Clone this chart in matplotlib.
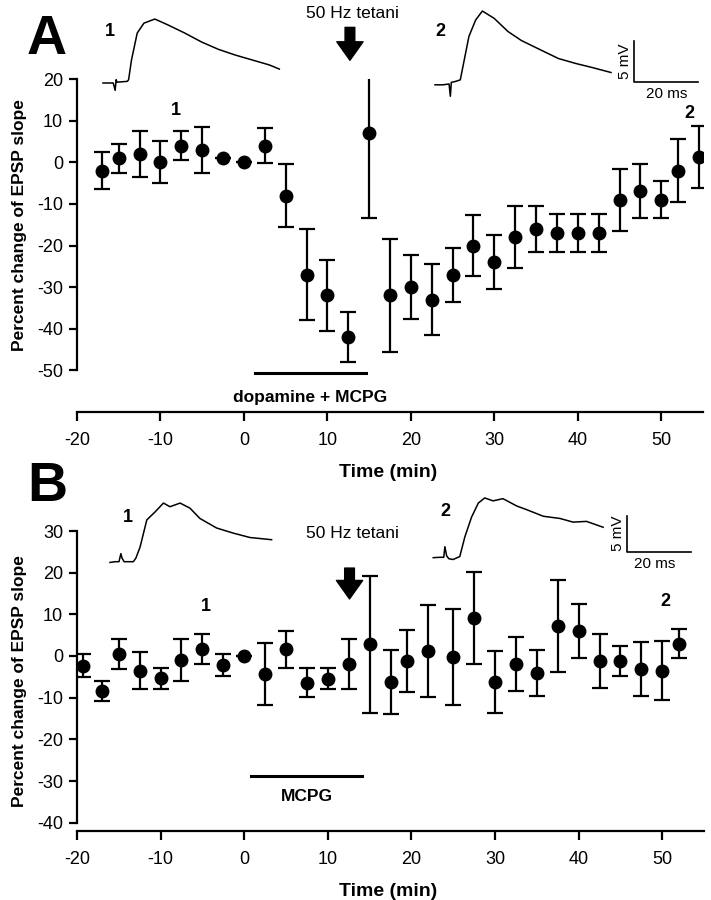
import matplotlib
matplotlib.use('Agg')
import matplotlib.pyplot as plt

plt.rcParams['font.family'] = ['Liberation Sans', 'DejaVu Sans']
plt.rcParams['axes.unicode_minus'] = False

# ---- panel A data (time in min, % change of EPSP slope, SEM) ----
a_time = [-17, -15, -12.5, -10, -7.5, -5, -2.5, 0, 2.5, 5, 7.5, 10, 12.5, 15,
          17.5, 20, 22.5, 25, 27.5, 30, 32.5, 35, 37.5, 40, 42.5, 45, 47.5, 50, 52, 54.5]
a_val = [-2, 1, 2, 0, 4, 3, 1, 0, 4, -8, -27, -32, -42, 7,
         -32, -30, -33, -27, -20, -24, -18, -16, -17, -17, -17, -9, -7, -9, -2, 1.2]
a_err = [4.5, 3.5, 5.5, 5, 3.5, 5.5, 0, 0, 4.2, 7.5, 11, 8.5, 6, 20.5,
         13.5, 7.6, 8.5, 6.5, 7.4, 6.5, 7.5, 5.5, 4.5, 4.5, 4.5, 7.4, 6.5, 4.5, 7.5, 7.5]

# ---- panel B data ----
b_time = [-19.3, -17, -15, -12.5, -10, -7.5, -5, -2.5, 0, 2.5, 5, 7.5, 10, 12.5,
          15, 17.5, 19.5, 22, 25, 27.5, 30, 32.5, 35, 37.5, 40, 42.5, 45, 47.5, 50, 52]
b_val = [-2.3, -8.4, 0.5, -3.5, -5.3, -1, 1.7, -2.2, 0, -4.3, 1.6, -6.4, -5.4, -1.9,
         2.8, -6.2, -1.2, 1.2, -0.2, 9.2, -6.2, -2, -4.1, 7.2, 6, -1.2, -1.1, -3.1, -3.5, 3]
b_err = [2.7, 2.5, 3.5, 4.5, 2.5, 5, 3.5, 2.6, 0, 7.5, 4.5, 3.5, 2.5, 6,
         16.5, 7.6, 7.5, 11, 11.5, 11, 7.5, 6.5, 5.5, 11, 6.5, 6.5, 3.6, 6.5, 7, 3.5]

# ---- EPSP traces (ms, mV) ----
a1_t = [0, 3.2, 3.8, 4.1, 4.4, 7.6, 8.0, 8.9, 10.7, 12.8, 16.2, 20.2, 25.5, 30.8, 36.1, 41.4, 46.7, 52.0, 55.1]
a1_v = [0, 0, -0.9, 0.4, 0.1, 0.2, 0.4, 2.8, 6.1, 7.3, 7.8, 7.1, 6.1, 5.0, 4.1, 3.4, 2.8, 2.2, 1.7]
a2_t = [0, 2.5, 4.4, 4.8, 5.1, 6.3, 7.9, 10.6, 12.7, 14.8, 18.5, 22.8, 27.0, 33.3, 38.6, 44.0, 49.2, 55.0]
a2_v = [-0.1, -0.1, 0, -1.5, 0.2, 0.3, 0.5, 5.8, 7.8, 8.9, 8.0, 6.4, 5.3, 4.1, 3.1, 2.5, 2.0, 1.4]
b1_t = [0, 1.6, 2.8, 3.4, 3.75, 4.4, 7.3, 8.1, 9.4, 11.5, 14.1, 16.7, 18.75, 21.9, 25, 28.1, 33.3, 38.5, 43.75, 50.5]
b1_v = [-0.1, 0, 0, 1.1, 0.5, 0, 0, 0.5, 2.0, 5.7, 6.8, 8.0, 7.5, 8.0, 7.3, 5.9, 4.6, 3.9, 3.3, 3.0]
b2_t = [0.1, 2.2, 3.4, 3.75, 4.3, 5.0, 6.3, 8.4, 10, 12.1, 14.2, 16.2, 18.8, 21.9, 26.2, 29.3, 34.5, 39.7, 43.8, 48.0, 53.2]
b2_v = [-0.05, 0, 0, 1.45, 0.2, -0.2, -0.3, 0.1, 2.8, 5.5, 7.4, 8.1, 7.7, 8.0, 7.0, 6.5, 5.6, 5.3, 4.8, 4.9, 4.1]

W, H = 711, 900
fig = plt.figure(figsize=(W / 100, H / 100), dpi=100)


def frac(x0, y0, x1, y1):
    # pixel box -> figure fraction rect
    return [x0 / W, 1 - y1 / H, (x1 - x0) / W, (y1 - y0) / H]


def style_axes(ax, ylo, yhi, ybot, yticks):
    ax.set_xlim(-20, 55)
    ax.set_ylim(ybot, yhi)
    for s in ['top', 'right']:
        ax.spines[s].set_visible(False)
    ax.spines['left'].set_bounds(ylo, yhi)
    ax.spines['bottom'].set_bounds(-20, 55)
    ax.spines['left'].set_linewidth(1.6)
    ax.spines['bottom'].set_linewidth(1.6)
    ax.set_xticks([-20, -10, 0, 10, 20, 30, 40, 50])
    ax.set_yticks(yticks)
    ax.tick_params(axis='both', direction='out', width=1.6, labelsize=13)
    ax.tick_params(axis='y', length=6, pad=4)
    ax.tick_params(axis='x', length=6.5, pad=8)
    ax.set_xlabel('Time (min)', fontsize=14, fontweight='bold')
    ax.set_ylabel('Percent change of EPSP slope', fontsize=12.5, fontweight='bold')
    ax.patch.set_alpha(0)


def trace_axes(rect, xlim, ylim):
    tx = fig.add_axes(rect)
    tx.set_xlim(*xlim)
    tx.set_ylim(*ylim)
    tx.axis('off')
    return tx


eb = dict(fmt='o', color='black', ms=9, capsize=6, elinewidth=1.6, capthick=1.6)
arrow_style = dict(arrowstyle='simple,head_width=1.35,head_length=0.95,tail_width=0.5',
                   fc='black', ec='black', mutation_scale=14, shrinkA=0, shrinkB=0)

# ================= Panel A =================
axA = fig.add_axes(frac(77, 79, 703, 412))
style_axes(axA, -50, 20, -60, [-50, -40, -30, -20, -10, 0, 10, 20])
axA.errorbar(a_time, a_val, yerr=a_err, **eb)
axA.plot([1.3, 14.6], [-50.7, -50.7], color='black', lw=2.2, clip_on=False)
axA.text(7.9, -56.4, 'dopamine + MCPG', ha='center', va='center', fontsize=12.5, fontweight='bold')
axA.text(-8.1, 12.5, '1', ha='center', va='center', fontsize=13, fontweight='bold')
axA.text(53.4, 11.8, '2', ha='center', va='center', fontsize=13, fontweight='bold')
axA.annotate('', xy=(12.7, 24.5), xytext=(12.7, 32.4), arrowprops=arrow_style, annotation_clip=False)
axA.text(13.0, 35.8, '50 Hz tetani', ha='center', va='center', fontsize=12.5)
axA.xaxis.set_label_coords(0.497, -0.155)
axA.yaxis.set_label_coords(-0.08, 0.56)

# traces A: 3.2 px/ms, 8.2 px/mV, trace 1 origin at px (103, 83)
tA = trace_axes(frac(90, 0, 710, 100), (-13 / 3.2, 607 / 3.2), (-17 / 8.2, 83 / 8.2))
tA.plot(a1_t, a1_v, color='black', lw=1.1)
tA.plot([t + 103.75 for t in a2_t], [v - 0.12 for v in a2_v], color='black', lw=1.1)
tA.plot([166, 166, 186], [5.1, 0.1, 0.1], color='black', lw=1.2)
tA.text(163.2, 2.6, '5 mV', rotation=90, ha='center', va='center', fontsize=11)
tA.text(176, -1.3, '20 ms', ha='center', va='center', fontsize=11)
fig.text(110 / W, 1 - 31 / H, '1', ha='center', va='center', fontsize=13, fontweight='bold')
fig.text(440 / W, 1 - 31 / H, '2', ha='center', va='center', fontsize=13, fontweight='bold')
fig.text(47 / W, 1 - 40 / H, 'A', ha='center', va='center', fontsize=40, fontweight='bold')

# ================= Panel B =================
axB = fig.add_axes(frac(77, 531, 704, 831))
style_axes(axB, -40, 30, -42, [-40, -30, -20, -10, 0, 10, 20, 30])
axB.errorbar(b_time, b_val, yerr=b_err, **eb)
axB.plot([0.8, 14.1], [-28.9, -28.9], color='black', lw=2.2)
axB.text(7.5, -33.7, 'MCPG', ha='center', va='center', fontsize=12.5, fontweight='bold')
axB.text(-4.6, 11.8, '1', ha='center', va='center', fontsize=13, fontweight='bold')
axB.text(50.4, 13, '2', ha='center', va='center', fontsize=13, fontweight='bold')
axB.annotate('', xy=(12.6, 13.7), xytext=(12.6, 21.1), arrowprops=arrow_style, annotation_clip=False)
axB.text(13.0, 29.5, '50 Hz tetani', ha='center', va='center', fontsize=12.5)
axB.xaxis.set_label_coords(0.497, -0.175)
axB.yaxis.set_label_coords(-0.08, 0.5)

# traces B: 3.2 px/ms, 7.33 px/mV, trace 1 origin at px (110, 561.7)
tB = trace_axes(frac(90, 490, 710, 580), (-20 / 3.2, 600 / 3.2), (-18.3 / 7.33, 71.7 / 7.33))
tB.plot(b1_t, b1_v, color='black', lw=1.1)
tB.plot([t + 100.9 for t in b2_t], [v + 0.6 for v in b2_v], color='black', lw=1.1)
tB.plot([161.5, 161.5, 181.5], [6.28, 1.28, 1.28], color='black', lw=1.2)
tB.text(158.7, 3.9, '5 mV', rotation=90, ha='center', va='center', fontsize=11)
tB.text(170.3, -0.3, '20 ms', ha='center', va='center', fontsize=11)
fig.text(128 / W, 1 - 517 / H, '1', ha='center', va='center', fontsize=13, fontweight='bold')
fig.text(445 / W, 1 - 512 / H, '2', ha='center', va='center', fontsize=13, fontweight='bold')
fig.text(47 / W, 1 - 487 / H, 'B', ha='center', va='center', fontsize=40, fontweight='bold')

fig.savefig('out.png', dpi=100)
